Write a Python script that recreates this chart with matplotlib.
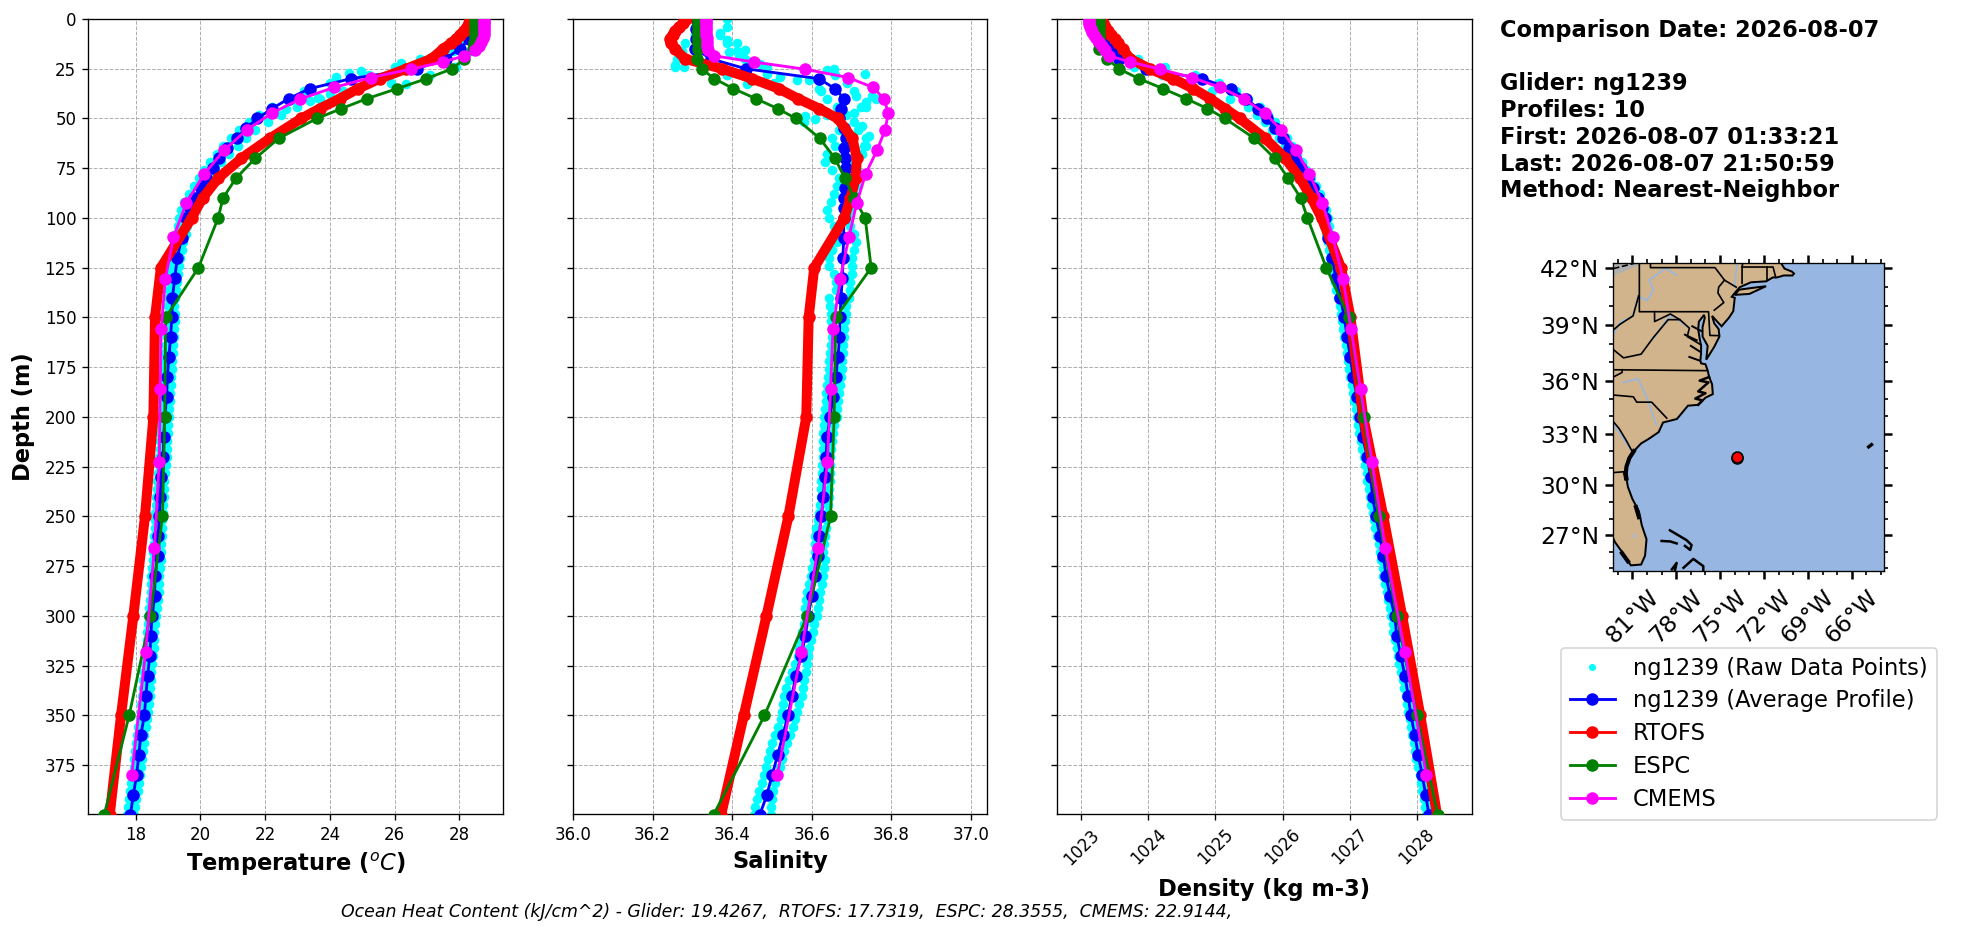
import numpy as np
import matplotlib
matplotlib.use("Agg")
import matplotlib.pyplot as plt
from matplotlib.lines import Line2D

W, H = 1968, 934
DPI = 120

# glider average profile
glider_depth = [0, 5, 10, 15, 20, 25, 30, 35, 40, 45, 50, 55, 60, 65, 70, 75, 80, 85, 90, 95, 100,
                110, 120, 130, 140, 150, 160, 170, 180, 190, 200, 210, 220, 230, 240, 250, 260, 270,
                280, 290, 300, 310, 320, 330, 340, 350, 360, 370, 380, 390, 400]
glider_temp = [28.47, 28.42, 28.3, 28.01, 27.58, 26.69, 24.65, 23.38, 22.73, 22.22, 21.76, 21.4, 21.12,
               20.81, 20.58, 20.38, 20.16, 20.02, 19.8, 19.68, 19.55, 19.42, 19.29, 19.21, 19.14, 19.12,
               19.08, 19.03, 18.98, 18.96, 18.9, 18.87, 18.85, 18.79, 18.76, 18.73, 18.7, 18.68, 18.6,
               18.59, 18.51, 18.47, 18.44, 18.37, 18.32, 18.27, 18.16, 18.1, 18.03, 17.93, 17.84]
glider_salt = [36.31, 36.31, 36.31, 36.307, 36.346, 36.434, 36.618, 36.658, 36.681, 36.674, 36.668, 36.68,
               36.685, 36.68, 36.683, 36.687, 36.685, 36.683, 36.682, 36.68, 36.68, 36.68, 36.678, 36.677,
               36.673, 36.671, 36.669, 36.666, 36.66, 36.653, 36.646, 36.638, 36.636, 36.632, 36.629,
               36.624, 36.618, 36.615, 36.608, 36.601, 36.59, 36.584, 36.573, 36.56, 36.55, 36.54, 36.527,
               36.514, 36.5, 36.487, 36.469]
glider_dens = [1023.2, 1023.25, 1023.35, 1023.48, 1023.57, 1023.97, 1024.8, 1025.23, 1025.45, 1025.64,
               1025.76, 1025.88, 1026.01, 1026.1, 1026.19, 1026.27, 1026.38, 1026.45, 1026.53, 1026.59,
               1026.63, 1026.68, 1026.74, 1026.79, 1026.86, 1026.92, 1026.96, 1027.01, 1027.05, 1027.11,
               1027.15, 1027.19, 1027.26, 1027.31, 1027.34, 1027.39, 1027.45, 1027.5, 1027.54, 1027.6,
               1027.67, 1027.7, 1027.76, 1027.82, 1027.87, 1027.91, 1027.97, 1028.02, 1028.08, 1028.13,
               1028.18]

# raw glider points, low and high side of the cloud
raw_depth = [0, 4, 8, 12, 16, 20, 24, 28, 32, 36, 40, 44, 48, 52, 56, 60, 64, 68, 72, 76, 80, 84, 88, 92, 96,
             100, 104, 108, 112, 116, 120, 124, 128, 132, 136, 140, 144, 148, 152, 156, 160, 164, 168, 172,
             176, 180, 184, 188, 192, 196, 200, 204, 208, 212, 216, 220, 224, 228, 232, 236, 240, 244, 248,
             252, 256, 260, 264, 268, 272, 276, 280, 284, 288, 292, 296, 300, 304, 308, 312, 316, 320, 324,
             328, 332, 336, 340, 344, 348, 352, 356, 360, 364, 368, 372, 376, 380, 384, 388, 392, 396, 400]
raw_temp_lo = [28.3, 28.3, 28.2, 28.05, 27.8, 27.2, 26.0, 25.2, 24.0, 23.2, 22.7, 22.2, 21.8, 21.5, 21.2, 20.95,
               20.7, 20.5, 20.3, 20.1, 19.95, 19.8, 19.65, 19.5, 19.4, 19.35, 19.3, 19.25, 19.2, 19.15, 19.12,
               19.1, 19.07, 19.05, 19.03, 19.01, 19.0, 19.0, 18.99, 18.97, 18.96, 18.94, 18.92, 18.9, 18.88,
               18.86, 18.85, 18.84, 18.82, 18.8, 18.78, 18.76, 18.75, 18.75, 18.74, 18.73, 18.71, 18.68, 18.66,
               18.65, 18.64, 18.63, 18.61, 18.6, 18.59, 18.58, 18.56, 18.55, 18.54, 18.51, 18.48, 18.48, 18.48,
               18.46, 18.42, 18.39, 18.37, 18.35, 18.34, 18.33, 18.32, 18.29, 18.26, 18.24, 18.22, 18.2, 18.18,
               18.16, 18.13, 18.08, 18.04, 18.02, 17.99, 17.96, 17.94, 17.91, 17.87, 17.83, 17.79, 17.76, 17.72]
raw_temp_hi = [28.55, 28.55, 28.55, 28.5, 28.35, 28.1, 27.9, 27.1, 25.9, 24.4, 23.7, 23.0, 22.5, 22.1, 21.7, 21.4,
               21.15, 20.9, 20.65, 20.45, 20.3, 20.15, 20.0, 19.85, 19.75, 19.7, 19.6, 19.55, 19.48, 19.42, 19.38,
               19.34, 19.3, 19.27, 19.24, 19.22, 19.2, 19.22, 19.21, 19.2, 19.19, 19.17, 19.15, 19.13, 19.11,
               19.09, 19.08, 19.07, 19.05, 19.03, 19.02, 19.0, 18.99, 18.98, 18.97, 18.96, 18.94, 18.91, 18.89,
               18.88, 18.87, 18.86, 18.84, 18.83, 18.82, 18.81, 18.79, 18.78, 18.77, 18.74, 18.71, 18.71, 18.71,
               18.69, 18.65, 18.62, 18.6, 18.58, 18.57, 18.56, 18.55, 18.52, 18.49, 18.47, 18.45, 18.43, 18.41,
               18.39, 18.36, 18.31, 18.27, 18.25, 18.22, 18.19, 18.17, 18.14, 18.1, 18.06, 18.02, 17.99, 17.96]
raw_salt_lo = [36.307, 36.307, 36.307, 36.282, 36.273, 36.261, 36.256, 36.387, 36.505, 36.622, 36.639, 36.663,
               36.639, 36.58, 36.667, 36.65, 36.658, 36.639, 36.634, 36.65, 36.667, 36.663, 36.655, 36.647, 36.639,
               36.643, 36.655, 36.663, 36.663, 36.65, 36.643, 36.643, 36.655, 36.66, 36.66, 36.643, 36.646, 36.648,
               36.649, 36.65, 36.65, 36.648, 36.646, 36.644, 36.642, 36.64, 36.638, 36.636, 36.635, 36.633, 36.631,
               36.63, 36.629, 36.629, 36.628, 36.627, 36.626, 36.625, 36.624, 36.624, 36.624, 36.621, 36.618, 36.615,
               36.611, 36.608, 36.608, 36.607, 36.605, 36.601, 36.597, 36.592, 36.588, 36.585, 36.584, 36.584, 36.58,
               36.575, 36.571, 36.568, 36.565, 36.558, 36.55, 36.542, 36.535, 36.53, 36.527, 36.525, 36.522, 36.516,
               36.508, 36.5, 36.495, 36.49, 36.485, 36.48, 36.474, 36.467, 36.462, 36.458, 36.454]
raw_salt_hi = [36.387, 36.387, 36.37, 36.387, 36.413, 36.433, 36.488, 36.659, 36.689, 36.706, 36.76, 36.735,
               36.685, 36.706, 36.717, 36.736, 36.736, 36.727, 36.706, 36.714, 36.714, 36.71, 36.706, 36.697, 36.697,
               36.693, 36.697, 36.706, 36.71, 36.706, 36.701, 36.701, 36.701, 36.697, 36.697, 36.693, 36.687, 36.685,
               36.683, 36.681, 36.68, 36.679, 36.678, 36.676, 36.675, 36.672, 36.67, 36.668, 36.666, 36.664, 36.663,
               36.656, 36.652, 36.65, 36.648, 36.646, 36.646, 36.646, 36.645, 36.643, 36.642, 36.64, 36.638, 36.637,
               36.635, 36.633, 36.63, 36.627, 36.633, 36.63, 36.628, 36.625, 36.621, 36.618, 36.615, 36.612, 36.606,
               36.602, 36.598, 36.594, 36.591, 36.588, 36.585, 36.581, 36.578, 36.576, 36.568, 36.562, 36.558, 36.552,
               36.545, 36.537, 36.53, 36.524, 36.519, 36.515, 36.508, 36.502, 36.5, 36.498, 36.497]
raw_dens_lo = [1023.15, 1023.17, 1023.22, 1023.32, 1023.42, 1023.55, 1023.78, 1024.2, 1024.6, 1024.95, 1025.21,
               1025.48, 1025.62, 1025.73, 1025.84, 1025.95, 1026.04, 1026.12, 1026.18, 1026.25, 1026.33, 1026.4,
               1026.46, 1026.52, 1026.56, 1026.59, 1026.62, 1026.64, 1026.67, 1026.69, 1026.71, 1026.73, 1026.75,
               1026.78, 1026.8, 1026.82, 1026.85, 1026.87, 1026.88, 1026.9, 1026.92, 1026.94, 1026.96, 1026.98,
               1026.99, 1027.01, 1027.03, 1027.05, 1027.07, 1027.09, 1027.11, 1027.12, 1027.14, 1027.16, 1027.18,
               1027.21, 1027.23, 1027.25, 1027.26, 1027.28, 1027.3, 1027.32, 1027.34, 1027.36, 1027.38, 1027.4,
               1027.43, 1027.45, 1027.47, 1027.49, 1027.5, 1027.52, 1027.55, 1027.57, 1027.6, 1027.62, 1027.64,
               1027.65, 1027.67, 1027.7, 1027.72, 1027.74, 1027.77, 1027.79, 1027.81, 1027.83, 1027.85, 1027.87,
               1027.89, 1027.91, 1027.93, 1027.95, 1027.97, 1027.99, 1028.01, 1028.04, 1028.06, 1028.08, 1028.1,
               1028.12, 1028.14]
raw_dens_hi = [1023.3, 1023.32, 1023.38, 1023.45, 1023.6, 1023.85, 1024.25, 1024.7, 1025.05, 1025.3, 1025.49,
               1025.66, 1025.78, 1025.88, 1025.97, 1026.06, 1026.14, 1026.22, 1026.29, 1026.35, 1026.42, 1026.49,
               1026.55, 1026.6, 1026.64, 1026.67, 1026.69, 1026.71, 1026.74, 1026.76, 1026.78, 1026.8, 1026.82,
               1026.84, 1026.86, 1026.88, 1026.91, 1026.93, 1026.94, 1026.96, 1026.98, 1027.0, 1027.01, 1027.03,
               1027.05, 1027.06, 1027.08, 1027.1, 1027.13, 1027.14, 1027.16, 1027.18, 1027.19, 1027.21, 1027.23,
               1027.26, 1027.28, 1027.3, 1027.32, 1027.33, 1027.35, 1027.37, 1027.39, 1027.41, 1027.43, 1027.46,
               1027.48, 1027.5, 1027.52, 1027.54, 1027.56, 1027.58, 1027.6, 1027.63, 1027.65, 1027.68, 1027.69,
               1027.71, 1027.73, 1027.76, 1027.78, 1027.8, 1027.83, 1027.85, 1027.87, 1027.89, 1027.91, 1027.93,
               1027.95, 1027.97, 1027.99, 1028.01, 1028.03, 1028.05, 1028.07, 1028.1, 1028.12, 1028.14, 1028.16,
               1028.18, 1028.2]

# stray raw points in the thermocline
stray_temp_depth = [20.3, 22, 26, 27, 29, 32.5, 37.6, 39.8, 41, 45]
stray_temp = [26.8, 26.2, 24.97, 24.6, 24.2, 26.36, 24.0, 23.64, 23.4, 22.66]
stray_salt_depth = [7.1, 10.5, 12.2, 15.6, 18.1, 16.4, 23.2, 24.1, 22.4, 27.5, 29.2, 30.8, 30.8, 25.8, 25.3, 27.8,
                    38.5, 38.5, 41.9, 44.4, 47, 48.6, 50.3, 53.7, 58.8, 63.9, 35.1, 32.5, 28.3, 21.5]
stray_salt = [36.37, 36.387, 36.412, 36.433, 36.416, 36.391, 36.256, 36.279, 36.471, 36.487, 36.521, 36.563, 36.592,
              36.639, 36.655, 36.733, 36.71, 36.752, 36.735, 36.723, 36.706, 36.584, 36.609, 36.727, 36.744, 36.731,
              36.618, 36.437, 36.387, 36.445]

# model profiles
model_depth = [0, 2, 4, 6, 8, 10, 12, 15, 20, 25, 30, 35, 40, 45, 50, 60, 70, 80, 90, 100, 125, 150, 200, 250, 300,
               350, 400]
rtofs_temp = [28.34, 28.3, 28.24, 28.13, 28.01, 27.91, 27.75, 27.5, 27.14, 26.36, 25.54, 24.87, 24.31, 23.69, 23.12,
              22.15, 21.27, 20.55, 20.07, 19.73, 18.78, 18.6, 18.55, 18.29, 17.93, 17.55, 17.2]
rtofs_salt = [36.284, 36.277, 36.267, 36.256, 36.25, 36.243, 36.245, 36.256, 36.281, 36.374, 36.45, 36.517, 36.565,
              36.618, 36.665, 36.702, 36.713, 36.71, 36.697, 36.682, 36.606, 36.592, 36.586, 36.541, 36.486, 36.429,
              36.372]
rtofs_dens = [1023.3, 1023.32, 1023.35, 1023.4, 1023.45, 1023.5, 1023.55, 1023.62, 1023.73, 1024.02, 1024.37, 1024.67,
              1024.92, 1025.14, 1025.36, 1025.74, 1026.04, 1026.26, 1026.43, 1026.58, 1026.87, 1027.01, 1027.2, 1027.5,
              1027.78, 1028.05, 1028.3]
espc_temp = [28.47, 28.47, 28.47, 28.47, 28.47, 28.47, 28.46, 28.42, 28.16, 27.78, 26.98, 26.08, 25.15, 24.36, 23.6,
             22.42, 21.7, 21.1, 20.7, 20.55, 19.94, 18.93, 18.9, 18.83, 18.46, 17.8, 17.03]
espc_salt = [36.315, 36.315, 36.315, 36.315, 36.315, 36.315, 36.315, 36.313, 36.311, 36.323, 36.355, 36.403, 36.459,
             36.514, 36.56, 36.62, 36.658, 36.683, 36.706, 36.734, 36.749, 36.66, 36.656, 36.647, 36.588, 36.481,
             36.353]
espc_dens = [1023.26, 1023.26, 1023.26, 1023.26, 1023.26, 1023.26, 1023.26, 1023.27, 1023.39, 1023.56, 1023.86, 1024.22,
             1024.56, 1024.88, 1025.14, 1025.58, 1025.88, 1026.08, 1026.27, 1026.37, 1026.65, 1026.99, 1027.21,
             1027.43, 1027.7, 1028.0, 1028.31]

cmems_depth = [0.49, 1.5, 2.6, 3.8, 5.1, 6.4, 7.9, 9.6, 11.4, 13.5, 15.8, 18.5, 21.6, 25.2, 29.4, 34.4, 40.3, 47.4, 55.8,
               65.8, 77.9, 92.3, 109.7, 130.7, 155.9, 186.1, 222.5, 266, 318, 380]
cmems_temp = [28.76, 28.76, 28.76, 28.76, 28.76, 28.76, 28.75, 28.73, 28.68, 28.6, 28.47, 28.16, 27.5, 26.5, 25.28,
              24.13, 23.07, 22.2, 21.43, 20.74, 20.12, 19.57, 19.17, 18.92, 18.79, 18.76, 18.73, 18.58, 18.31, 17.88]
cmems_salt = [36.335, 36.335, 36.335, 36.335, 36.335, 36.335, 36.335, 36.336, 36.336, 36.337, 36.34, 36.355, 36.454,
              36.582, 36.691, 36.754, 36.782, 36.792, 36.784, 36.764, 36.735, 36.713, 36.693, 36.671, 36.653, 36.647,
              36.639, 36.615, 36.574, 36.513]
cmems_dens = [1023.12, 1023.12, 1023.12, 1023.13, 1023.15, 1023.16, 1023.19, 1023.22, 1023.26, 1023.31, 1023.36, 1023.42,
              1023.73, 1024.17, 1024.65, 1025.07, 1025.43, 1025.74, 1025.98, 1026.2, 1026.4, 1026.59, 1026.75, 1026.9,
              1027.02, 1027.16, 1027.33, 1027.53, 1027.82, 1028.14]

depth_ticks = [0, 25, 50, 75, 100, 125, 150, 175, 200, 225, 250, 275, 300, 325, 350, 375]
temp_ticks = [18, 20, 22, 24, 26, 28]
salt_ticks = [36.0, 36.2, 36.4, 36.6, 36.8, 37.0]
dens_ticks = [1023, 1024, 1025, 1026, 1027, 1028]

# map: coast, borders and rivers in lon/lat
coast_lon = [-70.7, -70.9, -70.6, -70.1, -69.95, -70.05, -70.65, -71.1, -71.4, -71.85, -72.9, -73.65, -74.0, -74.2, -74.0,
             -74.1, -74.4, -74.9, -75.2, -75.55, -75.4, -75.1, -75.05, -75.4, -75.95, -75.85, -76.2, -76.2, -76.05, -76.1,
             -76.45, -76.5, -76.4, -76.3, -76.3, -76.35, -76.3, -76.0, -75.85, -75.75, -75.55, -75.5, -76.0, -76.5, -77.2,
             -77.95, -78.9, -79.2, -79.9, -80.4, -80.9, -81.3, -81.4, -81.4, -81.3, -81.0, -80.55, -80.35, -80.03, -80.13,
             -80.4, -81.1, -81.8, -82.2, -82.8, -84, -84, -70.7]
coast_lat = [42.7, 42.3, 41.95, 41.8, 41.7, 41.6, 41.6, 41.5, 41.5, 41.3, 41.25, 41.0, 40.7, 40.5, 40.45,
             39.75, 39.4, 38.95, 39.2, 39.5, 39.1, 38.8, 38.4, 37.85, 37.15, 37.9, 38.4, 38.9, 39.4, 39.55,
             39.2, 38.8, 38.3, 37.9, 37.5, 37.1, 36.95, 36.9, 36.55, 36.2, 35.8, 35.25, 35.05, 34.65, 34.6,
             33.85, 33.65, 33.1, 32.7, 32.45, 32.0, 31.4, 31.0, 30.4, 29.9, 29.2, 28.45, 27.6, 26.75, 25.75,
             25.2, 25.15, 26.1, 26.6, 27.8, 28, 43, 42.7]
island_lon = [-74.0, -73.0, -71.86, -72.6, -73.7, -74.0]
island_lat = [40.6, 40.65, 41.05, 40.98, 40.87, 40.6]
sound_lon = [-75.75, -76.4, -75.8, -76.5, -76.0, -76.7, -76.2, -76.5]
sound_lat = [36.2, 36.0, 35.9, 35.4, 35.3, 35.0, 34.9, 34.65]
tributaries = [
    ([-77.4, -76.6], [38.5, 38.2]),
    ([-77.0, -76.4], [37.9, 37.6]),
    ([-77.1, -76.4], [37.3, 37.1]),
    ([-76.9, -76.3], [38.95, 38.7]),
]
thick_coast = [
    ([-80.9, -81.2, -81.4, -81.45, -81.4], [32.0, 31.6, 31.1, 30.7, 30.4]),
    ([-80.75, -80.55], [28.7, 28.1]),
    ([-81.7, -81.3], [25.9, 25.4]),
]
bermuda_lon = [-64.85, -64.65]
bermuda_lat = [32.25, 32.38]
bahamas = [
    ([-78.43, -77.86, -77.29, -76.95, -77.05, -77.4], [27.3, 27.0, 26.7, 26.4, 26.1, 26.35]),
    ([-79.0, -78.4, -77.97], [26.65, 26.62, 26.5]),
    ([-78.3, -77.97, -78.1], [24.9, 25.3, 24.8]),
    ([-77.5, -76.83, -76.15, -76.15], [25.0, 25.55, 25.1, 24.8]),
]
borders = [
    ([-80.52, -80.52, -75.79, -75.7, -75.05], [42.3, 39.72, 39.72, 38.46, 38.45]),
    ([-79.76, -79.76, -75.35, -74.7, -73.9], [42.3, 42.0, 42.0, 41.36, 41.0]),
    ([-74.7, -75.1, -75.15, -74.75, -75.4], [41.36, 41.0, 40.7, 40.2, 39.8]),
    ([-73.3, -73.5, -73.5], [42.75, 42.05, 41.2]),
    ([-73.5, -71.38, -71.2], [42.03, 42.03, 41.5]),
    ([-71.8, -71.8], [42.03, 41.35]),
    ([-79.48, -79.48, -78.4, -77.75, -77.1, -77.25, -76.3], [39.72, 39.2, 39.6, 39.3, 38.85, 38.4, 37.95]),
    ([-82.3, -81.6, -80.4, -79.56, -78.55, -77.75], [37.7, 37.25, 37.45, 38.35, 39.3, 39.3]),
    ([-82.3, -81.85, -80.95, -80.57], [38.75, 39.05, 39.5, 40.55]),
    ([-82.4, -75.87], [36.6, 36.55]),
    ([-82.3, -81.7, -81.7], [36.2, 36.45, 36.6]),
    ([-82.3, -80.93, -80.7, -79.68, -78.65], [35.2, 35.1, 34.8, 34.8, 33.9]),
    ([-82.3, -81.9, -81.4, -81.05], [33.7, 33.3, 32.6, 32.05]),
    ([-82.3, -81.6, -81.5], [30.75, 30.8, 30.35]),
]
rivers = [
    ([-82.3, -81.85, -80.95, -80.6, -80.0, -79.55, -79.85, -78.75, -78.0], [38.5, 39.15, 39.5, 40.55, 40.3, 40.85, 41.35, 41.97, 41.62]),
    ([-79.55, -78.55, -78.2, -77.2], [38.3, 39.4, 39.5, 38.9]),
    ([-73.85, -74.0], [42.3, 41.0]),
    ([-81.6, -80.6, -80.0, -79.35], [35.9, 36.1, 35.05, 33.5]),
    ([-82.3, -81.15], [33.55, 32.15]),
]
lake_lon = [-82.4, -80.0, -82.4]
lake_lat = [42.3, 42.3, 41.55]
okeechobee_lon = [-81.05, -80.85, -80.65, -80.85]
okeechobee_lat = [26.95, 27.15, 26.95, 26.75]
border_us_lon = [-82.3, -80.7, -79.8]
border_us_lat = [41.95, 42.25, 42.45]
glider_lon = [-73.87, -73.82]
glider_lat = [31.6, 31.65]
lon_ticks = [-81, -78, -75, -72, -69, -66]
lat_ticks = [27, 30, 33, 36, 39, 42]
lon_labels = ['81°W', '78°W', '75°W', '72°W', '69°W', '66°W']
lat_labels = ['27°N', '30°N', '33°N', '36°N', '39°N', '42°N']

info_text = ("Comparison Date: 2026-08-07\n\nGlider: ng1239\nProfiles: 10\n"
             "First: 2026-08-07 01:33:21\nLast: 2026-08-07 21:50:59\nMethod: Nearest-Neighbor")
ohc_text = "Ocean Heat Content (kJ/cm^2) - Glider: 19.4267,  RTOFS: 17.7319,  ESPC: 28.3555,  CMEMS: 22.9144,"


def px_axes(fig, left, top, right, bottom):
    return fig.add_axes([left / W, 1 - bottom / H, (right - left) / W, (bottom - top) / H])


fig = plt.figure(figsize=(W / DPI, H / DPI), dpi=DPI)
ax1 = px_axes(fig, 88, 19, 503, 814)
ax2 = px_axes(fig, 573, 19, 987, 814)
ax3 = px_axes(fig, 1057, 19, 1472, 814)

panels = [
    (ax1, raw_temp_lo, raw_temp_hi, glider_temp, rtofs_temp, espc_temp, cmems_temp),
    (ax2, raw_salt_lo, raw_salt_hi, glider_salt, rtofs_salt, espc_salt, cmems_salt),
    (ax3, raw_dens_lo, raw_dens_hi, glider_dens, rtofs_dens, espc_dens, cmems_dens),
]
for ax, lo, hi, gl, rt, es, cm in panels:
    ax.plot(lo, raw_depth, '.', color='cyan', ms=9.5, zorder=2)
    ax.plot(hi, raw_depth, '.', color='cyan', ms=9.5, zorder=2)
    if ax is ax1:
        ax.plot(stray_temp, stray_temp_depth, '.', color='cyan', ms=9.5, zorder=2)
    if ax is ax2:
        ax.plot(stray_salt, stray_salt_depth, '.', color='cyan', ms=9.5, zorder=2)
    ax.plot(gl, glider_depth, '-o', color='blue', lw=1.7, ms=6.5, zorder=3)
    ax.plot(rt, model_depth, '-o', color='red', lw=6, ms=6.5, zorder=4)
    ax.plot(es, model_depth, '-o', color='green', lw=1.7, ms=6.5, zorder=5)
    ax.plot(cm, cmems_depth, '-o', color='magenta', lw=1.7, ms=6.5, zorder=6)
    ax.set_ylim(399.5, 0)
    ax.set_yticks(depth_ticks)
    ax.grid(True, linestyle='--', linewidth=0.6)
    ax.set_axisbelow(True)

ax1.set_xlim(16.53, 29.35)
ax1.set_xticks(temp_ticks)
ax1.set_ylabel('Depth (m)', fontsize=13.5, fontweight='bold', labelpad=6)
ax1.set_xlabel('Temperature ($^oC$)', fontsize=13.5, fontweight='bold')
ax2.set_xlim(36.0, 37.04)
ax2.set_xticks(salt_ticks)
ax2.set_yticklabels([])
ax2.set_xlabel('Salinity', fontsize=13.5, fontweight='bold')
ax3.set_xlim(1022.64, 1028.82)
ax3.set_xticks(dens_ticks)
ax3.set_yticklabels([])
ax3.tick_params(axis='x', labelrotation=45)
ax3.set_xlabel('Density (kg m-3)', fontsize=13.5, fontweight='bold', labelpad=6)

fig.text(1500 / W, 1 - 19 / H, info_text, fontsize=13.5, fontweight='bold', va='top', ha='left', linespacing=1.207)
fig.text(787 / W, 1 - 912 / H, ohc_text, fontsize=10.4, style='italic', ha='center', va='center')


# map panel, mercator latitudes
def merc(lat):
    return np.degrees(np.log(np.tan(np.pi / 4 + np.radians(lat) / 2)))


def inv_merc(y):
    return np.degrees(2 * np.arctan(np.exp(np.radians(y))) - np.pi / 2)


land = '#D2B48C'
ocean = '#97B6E1'
axm = px_axes(fig, 1613.3, 262.7, 1884, 571)
axm.set_yscale('function', functions=(merc, inv_merc))
axm.set_facecolor(ocean)
axm.fill(coast_lon, coast_lat, facecolor=land, edgecolor='black', lw=1.2, zorder=1)
axm.fill(island_lon, island_lat, facecolor=land, edgecolor='black', lw=1.2, zorder=1)
axm.fill(lake_lon, lake_lat, facecolor='#B0B0B0', edgecolor='none', zorder=2)
axm.fill(okeechobee_lon, okeechobee_lat, facecolor='#B8B8B8', edgecolor='none', zorder=2)
axm.plot(border_us_lon, border_us_lat, color='black', lw=1, ls='--', zorder=3)
for lons, lats in rivers:
    axm.plot(lons, lats, color=ocean, lw=1, zorder=2)
for lons, lats in borders:
    axm.plot(lons, lats, color='black', lw=1, zorder=3)
for lons, lats in bahamas:
    axm.plot(lons, lats, color='black', lw=1.5, zorder=3)
for lons, lats in tributaries:
    axm.plot(lons, lats, color='black', lw=1.2, zorder=3)
for lons, lats in thick_coast:
    axm.plot(lons, lats, color='black', lw=2.5, zorder=3)
axm.plot(sound_lon, sound_lat, color='black', lw=1.5, zorder=3)
axm.plot(bermuda_lon, bermuda_lat, color='black', lw=2, zorder=3)
axm.plot(glider_lon[0], glider_lat[0], 'o', color='black', ms=6.5, zorder=4)
axm.plot(glider_lon[1], glider_lat[1], 'o', color='red', mec='black', ms=6.5, zorder=5)
axm.set_xlim(-82.3, -63.8)
axm.set_ylim(24.8, 42.25)
axm.set_xticks(lon_ticks)
axm.set_xticklabels(lon_labels, rotation=45, ha='center', fontsize=14)
axm.set_yticks(lat_ticks)
axm.set_yticklabels(lat_labels, fontsize=14)
axm.set_xticks([-82, -80, -79, -77, -76, -74, -73, -71, -70, -68, -67, -65, -64], minor=True)
axm.set_yticks([25, 26, 28, 29, 31, 32, 34, 35, 37, 38, 40, 41], minor=True)
axm.yaxis.set_minor_formatter(plt.NullFormatter())
axm.tick_params(which='major', length=5, width=1.5, top=True, right=True)
axm.tick_params(which='minor', length=2.5, width=1, top=True, right=True)

handles = [
    Line2D([], [], ls='none', marker='.', color='cyan', ms=6.5),
    Line2D([], [], color='blue', marker='o', lw=1.7, ms=6.5),
    Line2D([], [], color='red', marker='o', lw=1.7, ms=6.5),
    Line2D([], [], color='green', marker='o', lw=1.7, ms=6.5),
    Line2D([], [], color='magenta', marker='o', lw=1.7, ms=6.5),
]
labels = ['ng1239 (Raw Data Points)', 'ng1239 (Average Profile)', 'RTOFS', 'ESPC', 'CMEMS']
fig.legend(handles, labels, loc='upper left', bbox_to_anchor=(1560.7 / W, 1 - 647.5 / H), fontsize=13.6,
           borderaxespad=0, labelspacing=0.43)

fig.savefig('out.png', dpi=DPI)
